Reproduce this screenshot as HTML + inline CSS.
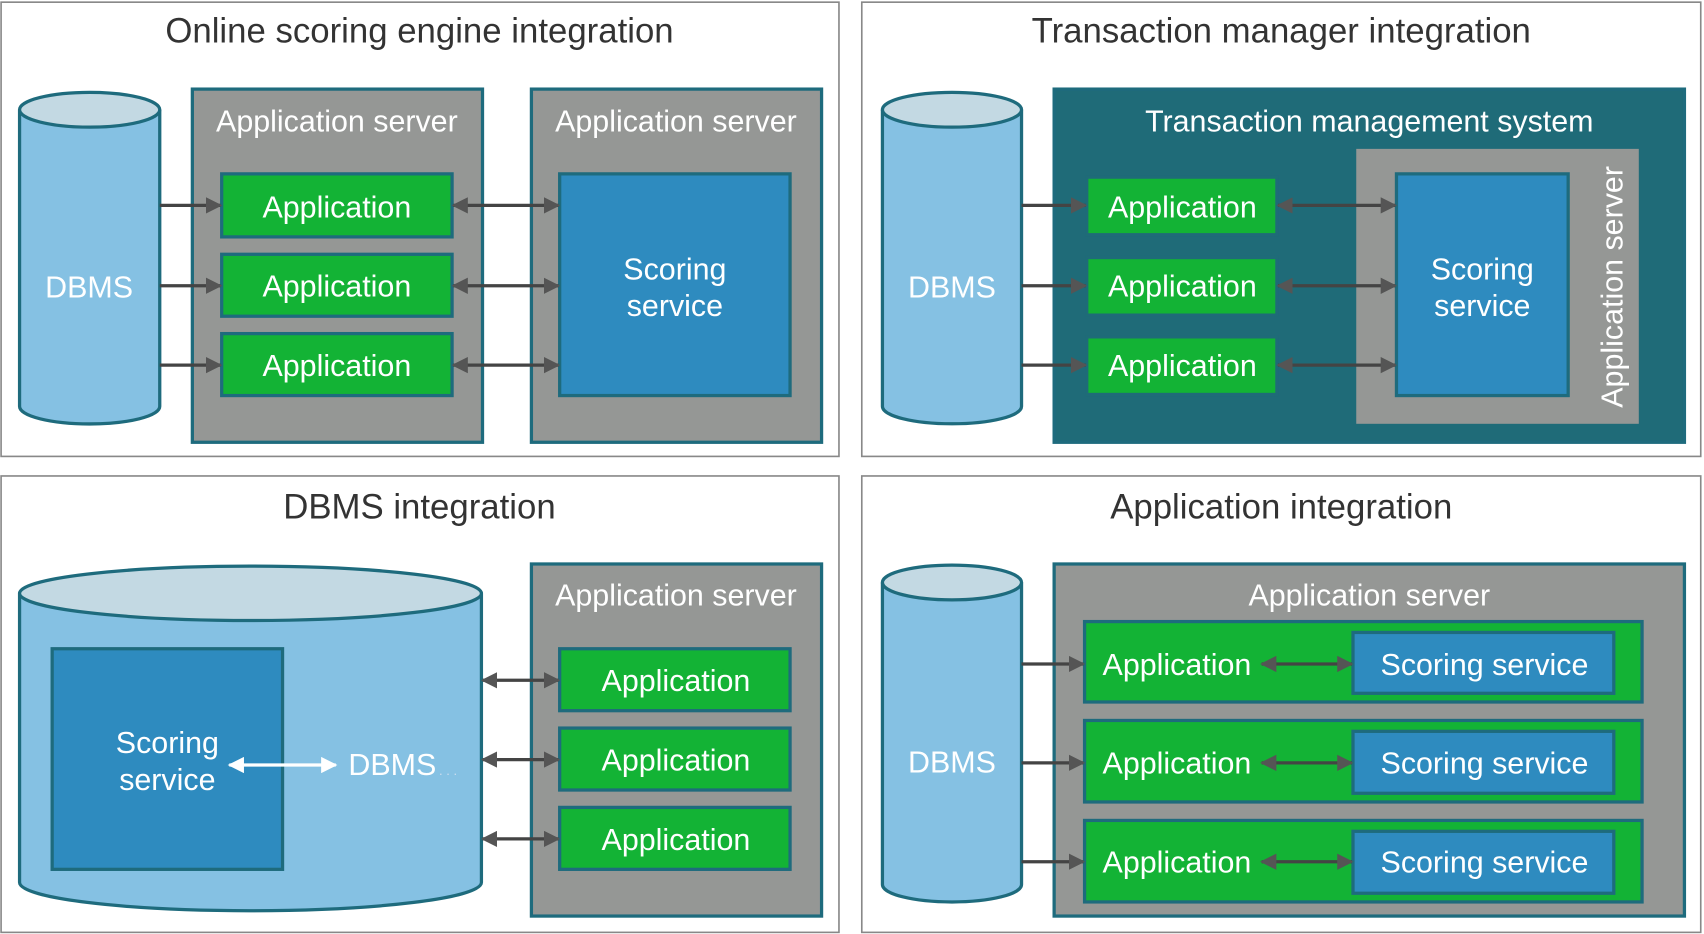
<!DOCTYPE html>
<html><head><meta charset="utf-8"><style>
html,body{margin:0;padding:0;background:#fff;}
svg{display:block;}
text{font-family:"Liberation Sans",sans-serif;}
</style></head><body>
<svg width="1704" height="934" viewBox="0 0 1568 859.5" preserveAspectRatio="none" xmlns="http://www.w3.org/2000/svg">
<defs>
<marker id="a" viewBox="0 0 10 10" refX="9" refY="5" markerWidth="5" markerHeight="5" orient="auto-start-reverse"><path d="M0,0 L10,5 L0,10 z" fill="#555"/></marker>
<marker id="w" viewBox="0 0 10 10" refX="9" refY="5" markerWidth="5" markerHeight="5" orient="auto-start-reverse"><path d="M0,0 L10,5 L0,10 z" fill="#fff"/></marker>
</defs>
<g fill="none" stroke="#888" stroke-width="1.5">
<rect x="1" y="2" width="771" height="418"/><rect x="793" y="2" width="772" height="418"/>
<rect x="1" y="438" width="771" height="420"/><rect x="793" y="438" width="772" height="420"/>
</g>
<g fill="#333" font-size="32" text-anchor="middle">
<text x="386" y="39">Online scoring engine integration</text>
<text x="1179" y="39">Transaction manager integration</text>
<text x="386" y="477">DBMS integration</text>
<text x="1179" y="477">Application integration</text>
</g>
<g stroke="#1e6b7d" stroke-width="3">
<path d="M18,101 V374 A64,16 0 0 0 147,374 V101" fill="#85c1e3"/>
<ellipse cx="82.5" cy="101" rx="64.5" ry="16" fill="#c3d9e3"/>
<rect x="177" y="82" width="267" height="325" fill="#959795"/>
<rect x="489" y="82" width="267" height="325" fill="#959795"/>
<rect x="204" y="160" width="212" height="58" fill="#13b335"/>
<rect x="204" y="234" width="212" height="57" fill="#13b335"/>
<rect x="204" y="307" width="212" height="57" fill="#13b335"/>
<rect x="515" y="160" width="212" height="204" fill="#2e8bbf"/>
<path d="M812,101 V374 A64,16 0 0 0 940,374 V101" fill="#85c1e3"/>
<ellipse cx="876" cy="101" rx="64" ry="16" fill="#c3d9e3"/>
<rect x="970" y="82" width="580" height="325" fill="#1f6b78"/>
<rect x="1248" y="137" width="260" height="253" fill="#959795" stroke="none"/>
<rect x="1000" y="163" width="175" height="53" fill="#13b335" stroke="#1f6b78"/>
<rect x="1000" y="237" width="175" height="53" fill="#13b335" stroke="#1f6b78"/>
<rect x="1000" y="310" width="175" height="53" fill="#13b335" stroke="#1f6b78"/>
<rect x="1285" y="160" width="158" height="204" fill="#2e8bbf"/>
<path d="M18,546 V812 A212,26 0 0 0 443,812 V546" fill="#85c1e3"/>
<ellipse cx="230.5" cy="546" rx="212.5" ry="25" fill="#c3d9e3"/>
<rect x="48" y="597" width="212" height="203" fill="#2e8bbf"/>
<rect x="489" y="519" width="267" height="324" fill="#959795"/>
<rect x="515" y="597" width="212" height="57" fill="#13b335"/>
<rect x="515" y="670" width="212" height="57" fill="#13b335"/>
<rect x="515" y="743" width="212" height="57" fill="#13b335"/>
<path d="M812,536 V814 A64,16 0 0 0 940,814 V536" fill="#85c1e3"/>
<ellipse cx="876" cy="536" rx="64" ry="16" fill="#c3d9e3"/>
<rect x="970" y="519" width="580" height="324" fill="#959795"/>
<rect x="998" y="572" width="513" height="74" fill="#13b335"/>
<rect x="998" y="663" width="513" height="75" fill="#13b335"/>
<rect x="998" y="755" width="513" height="75" fill="#13b335"/>
<rect x="1245" y="582" width="240" height="56" fill="#2e8bbf"/>
<rect x="1245" y="673" width="240" height="57" fill="#2e8bbf"/>
<rect x="1245" y="765" width="240" height="57" fill="#2e8bbf"/>
</g>
<g stroke="#444" stroke-width="3" fill="none">
<path d="M147,189 H203" marker-end="url(#a)"/><path d="M147,263 H203" marker-end="url(#a)"/><path d="M147,336 H203" marker-end="url(#a)"/>
<path d="M417,189 H514" marker-start="url(#a)" marker-end="url(#a)"/><path d="M417,263 H514" marker-start="url(#a)" marker-end="url(#a)"/><path d="M417,336 H514" marker-start="url(#a)" marker-end="url(#a)"/>
<path d="M940,189 H999" marker-end="url(#a)"/><path d="M940,263 H999" marker-end="url(#a)"/><path d="M940,336 H999" marker-end="url(#a)"/>
<path d="M1176,189 H1284" marker-start="url(#a)" marker-end="url(#a)"/><path d="M1176,263 H1284" marker-start="url(#a)" marker-end="url(#a)"/><path d="M1176,336 H1284" marker-start="url(#a)" marker-end="url(#a)"/>
<path d="M444,626 H514" marker-start="url(#a)" marker-end="url(#a)"/><path d="M444,699 H514" marker-start="url(#a)" marker-end="url(#a)"/><path d="M444,772 H514" marker-start="url(#a)" marker-end="url(#a)"/>
<path d="M940,611 H997" marker-end="url(#a)"/><path d="M940,702 H997" marker-end="url(#a)"/><path d="M940,793 H997" marker-end="url(#a)"/>
<path d="M1161,611 H1244" marker-start="url(#a)" marker-end="url(#a)"/><path d="M1161,702 H1244" marker-start="url(#a)" marker-end="url(#a)"/><path d="M1161,793 H1244" marker-start="url(#a)" marker-end="url(#a)"/>
<path d="M211,704 H309" stroke="#fff" marker-start="url(#w)" marker-end="url(#w)"/>
</g>
<g fill="#fff" font-size="28" text-anchor="middle">
<text x="82" y="274">DBMS</text>
<text x="310" y="121">Application server</text>
<text x="622" y="121">Application server</text>
<text x="310" y="200">Application</text><text x="310" y="273">Application</text><text x="310" y="346">Application</text>
<text x="621" y="257">Scoring</text><text x="621" y="291">service</text>
<text x="876" y="274">DBMS</text>
<text x="1260" y="121">Transaction management system</text>
<text x="1088" y="200">Application</text><text x="1088" y="273">Application</text><text x="1088" y="346">Application</text>
<text x="1364" y="257">Scoring</text><text x="1364" y="291">service</text>
<text x="0" y="0" transform="translate(1493,264) rotate(-90)">Application server</text>
<text x="154" y="693">Scoring</text><text x="154" y="727">service</text>
<text x="361" y="713">DBMS</text>
<text x="622" y="557">Application server</text>
<text x="622" y="636">Application</text><text x="622" y="709">Application</text><text x="622" y="782">Application</text>
<text x="876" y="711">DBMS</text>
<text x="1260" y="557">Application server</text>
<text x="1083" y="621">Application</text><text x="1083" y="712">Application</text><text x="1083" y="803">Application</text>
<text x="1366" y="621">Scoring service</text><text x="1366" y="712">Scoring service</text><text x="1366" y="803">Scoring service</text>
</g>
<text x="404" y="713" fill="#cde" font-size="12" font-family="Liberation Sans,sans-serif">. . .</text>
</svg>
</body></html>
